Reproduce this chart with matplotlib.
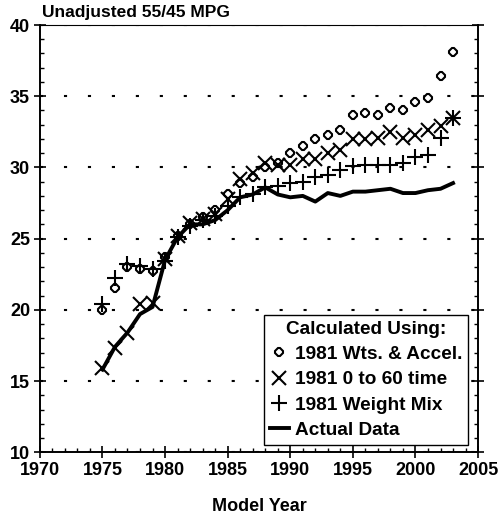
import matplotlib.pyplot as plt
from matplotlib.ticker import MultipleLocator

plt.rcParams['font.family'] = ['Liberation Sans', 'DejaVu Sans']
plt.rcParams['font.weight'] = 'bold'

years = list(range(1975, 2004))

# unadjusted 55/45 mpg by model year
wts_accel = [20.0, 21.5, 23.0, 22.9, 22.7, 23.7, 25.2, 26.0, 26.5, 27.0,
             28.1, 28.9, 29.3, 30.0, 30.3, 31.0, 31.5, 32.0, 32.3, 32.6,
             33.7, 33.8, 33.7, 34.2, 34.0, 34.6, 34.9, 36.4, 38.1]
zero_to_60 = [15.9, 17.3, 18.4, 20.4, 20.5, 23.6, 25.2, 26.1, 26.4, 26.7,
              27.8, 29.2, 29.6, 30.3, 30.2, 30.2, 30.6, 30.6, 31.0, 31.2,
              32.0, 32.0, 32.1, 32.5, 32.1, 32.3, 32.6, 32.9, 33.5]
weight_mix = [20.4, 22.2, 23.2, 23.1, 22.9, 23.4, 25.1, 25.9, 26.3, 26.6,
              27.3, 27.9, 28.1, 28.6, 28.7, 28.9, 29.0, 29.3, 29.5, 29.8,
              30.1, 30.2, 30.2, 30.2, 30.3, 30.7, 30.9, 32.1, 33.5]
actual = [15.8, 17.4, 18.4, 19.7, 20.2, 23.5, 25.1, 26.0, 26.0, 26.3,
          27.0, 27.9, 28.1, 28.6, 28.1, 27.9, 28.0, 27.6, 28.2, 28.0,
          28.3, 28.3, 28.4, 28.5, 28.2, 28.2, 28.4, 28.5, 28.9]

fig = plt.figure(figsize=(4.98, 5.21), dpi=100)
ax = fig.add_axes([0.080, 0.132, 0.880, 0.820])

ax.plot(years, wts_accel, linestyle='none', marker='8', ms=5.5,
        mfc='white', mec='black', mew=1.5, label='1981 Wts. & Accel.')
ax.plot(years, zero_to_60, linestyle='none', marker='x', ms=10,
        color='black', mew=1.5, label='1981 0 to 60 time')
ax.plot(years, weight_mix, linestyle='none', marker='+', ms=11,
        color='black', mew=1.5, label='1981 Weight Mix')
ax.plot(years, actual, color='black', lw=2.8, label='Actual Data')

ax.set_xlim(1970, 2005)
ax.set_ylim(10, 40)
ax.xaxis.set_major_locator(MultipleLocator(5))
ax.xaxis.set_minor_locator(MultipleLocator(1))
ax.yaxis.set_major_locator(MultipleLocator(5))
ax.yaxis.set_minor_locator(MultipleLocator(1))
ax.tick_params(which='major', direction='inout', length=8, width=1.2,
               labelsize=13, right=True, top=False)
ax.tick_params(which='minor', direction='in', length=3, width=1,
               right=True, top=False)
ax.tick_params(axis='x', pad=3)
ax.tick_params(axis='y', pad=3)

ax.spines['top'].set_linewidth(0.8)
for side in ['left', 'right', 'bottom']:
    ax.spines[side].set_linewidth(1.4)

ax.grid(axis='y', which='major', color='black', linestyle=(0, (1.5, 10)), lw=1.5)

ax.set_xlabel('Model Year', fontsize=13, fontweight='bold', labelpad=14)
fig.text(0.084, 0.976, 'Unadjusted 55/45 MPG', fontsize=12.5, fontweight='bold',
         va='center', ha='left')

leg = ax.legend(title='Calculated Using:', loc='lower right',
                bbox_to_anchor=(0.978, 0.018), fontsize=13.7, title_fontsize=13.7,
                frameon=True, fancybox=False, edgecolor='black', framealpha=1,
                handlelength=1.0, handletextpad=0.35, borderpad=0.3,
                labelspacing=0.42, borderaxespad=0)
leg.get_frame().set_linewidth(1.0)
for t in leg.get_texts():
    t.set_fontweight('bold')
leg.get_title().set_fontweight('bold')

fig.savefig('out.png', dpi=100)
